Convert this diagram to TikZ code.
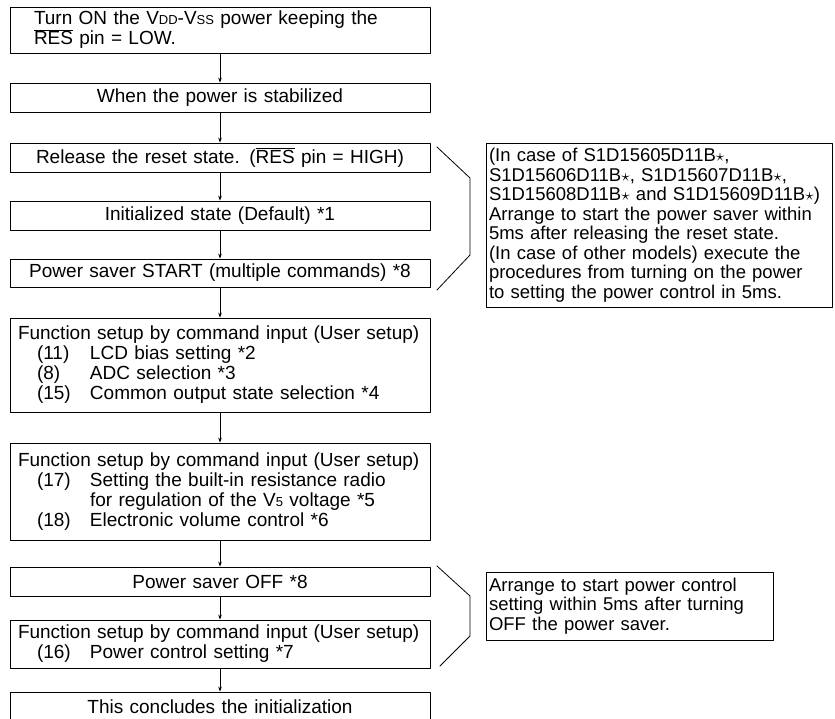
\documentclass[tikz,border=0pt]{standalone}
\usepackage{fontspec}
\setmainfont{Liberation Sans}
\usetikzlibrary{arrows.meta}
\newcommand{\lowsc}[1]{{\fontsize{13}{13}\selectfont #1}}
\newcommand{\resbar}{$\overline{\mbox{RES}}$}
\begin{document}
\begin{tikzpicture}[x=1pt, y=-1pt, font=\fontsize{19}{20}\selectfont, line join=round, line cap=round, >={Stealth[length=5pt, width=3.6pt]},
	stepbox/.style={draw, line width=0.8pt, text width=404pt, inner xsep=8pt, inner ysep=0pt, align=center},
	listbox/.style={stepbox, align=left},
	notebox/.style={draw, line width=0.8pt, inner xsep=3pt, inner ysep=0pt, align=left, font=\fontsize{18.5}{19.5}\selectfont},
	flow/.style={->, line width=0.6pt}]
	
	\useasboundingbox (0,0) rectangle (835,719);
	
	% Các bước của lưu đồ
	\node[stepbox, text width=372pt, inner xsep=24pt, align=left, minimum height=46pt] (on) at (220,30)
		{Turn ON the V\lowsc{DD}-V\lowsc{SS} power keeping the\\ \resbar{} pin = LOW.};
	\node[stepbox, minimum height=29pt] (stable) at (220,97.5) {When the power is stabilized};
	\node[stepbox, minimum height=29pt] (release) at (220,157.5) {Release the reset state. (\resbar{} pin = HIGH)};
	\node[stepbox, minimum height=29pt] (init) at (220,215.5) {Initialized state (Default) *1};
	\node[stepbox, minimum height=28pt] (saveon) at (220,273) {Power saver START (multiple commands) *8};
	\node[listbox, minimum height=94pt] (biasset) at (220,365)
		{Function setup by command input (User setup)\\
		 \hspace*{19pt}\makebox[53pt][l]{(11)}LCD bias setting *2\\
		 \hspace*{19pt}\makebox[53pt][l]{(8)}ADC selection *3\\
		 \hspace*{19pt}\makebox[53pt][l]{(15)}Common output state selection *4};
	\node[listbox, minimum height=97pt] (volset) at (220,491.5)
		{Function setup by command input (User setup)\\
		 \hspace*{19pt}\makebox[53pt][l]{(17)}Setting the built-in resistance radio\\
		 \hspace*{72pt}for regulation of the V\lowsc{5} voltage *5\\
		 \hspace*{19pt}\makebox[53pt][l]{(18)}Electronic volume control *6};
	\node[stepbox, minimum height=29pt] (saveoff) at (220,581.5) {Power saver OFF *8};
	\node[listbox, minimum height=48pt] (pwrset) at (220,644)
		{Function setup by command input (User setup)\\
		 \hspace*{19pt}\makebox[53pt][l]{(16)}Power control setting *7};
	\node[stepbox, minimum height=30pt] (done) at (220,707) {This concludes the initialization};
	
	% Mũi tên nối các bước
	\foreach \a/\b in {on/stable, stable/release, release/init, init/saveon, saveon/biasset,
		biasset/volset, volset/saveoff, saveoff/pwrset, pwrset/done}
		\draw[flow] (\a.south) -- (\b.north);
	
	% Ngoặc gom nhóm và ghi chú bên phải
	\draw[line width=0.8pt] (437,147) -- (470,178) -- (470,255) -- (437,290);
	\node[notebox, text width=340pt, minimum height=164pt] (note1) at (659,225)
		{(In case of S1D15605D11B$\star$,\\
		 S1D15606D11B$\star$, S1D15607D11B$\star$,\\
		 S1D15608D11B$\star$ and S1D15609D11B$\star$)\\
		 Arrange to start the power saver within\\
		 5ms after releasing the reset state.\\
		 (In case of other models) execute the\\
		 procedures from turning on the power\\
		 to setting the power control in 5ms.};
	
	\draw[line width=0.8pt] (437,566) -- (470,596) -- (470,636) -- (440,666);
	\node[notebox, text width=281pt, minimum height=68pt] (note2) at (629.5,606)
		{Arrange to start power control\\
		 setting within 5ms after turning\\
		 OFF the power saver.};
	
\end{tikzpicture}
\end{document}
